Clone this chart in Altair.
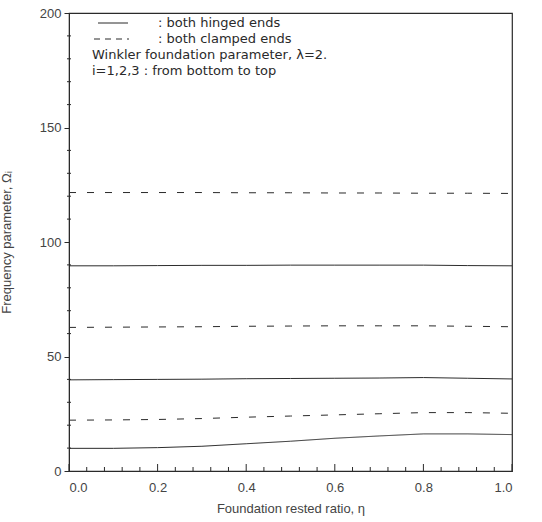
import altair as alt
import pandas as pd

# ---- data ----
eta = [0.0, 0.1, 0.2, 0.3, 0.4, 0.5, 0.6, 0.7, 0.8, 0.9, 1.0]
hinged_1 = [9.9, 9.9, 10.2, 10.8, 11.9, 13.0, 14.3, 15.3, 16.2, 16.2, 15.9]
hinged_2 = [39.8, 39.9, 40.0, 40.1, 40.3, 40.4, 40.5, 40.6, 40.8, 40.5, 40.2]
hinged_3 = [89.6, 89.6, 89.7, 89.8, 89.8, 89.9, 89.9, 89.9, 89.9, 89.7, 89.6]
clamped_1 = [22.2, 22.3, 22.5, 22.9, 23.5, 24.0, 24.5, 25.0, 25.5, 25.5, 25.2]
clamped_2 = [62.7, 62.8, 62.9, 63.0, 63.2, 63.3, 63.4, 63.4, 63.4, 63.2, 63.0]
clamped_3 = [121.6, 121.6, 121.6, 121.6, 121.5, 121.5, 121.4, 121.4, 121.3, 121.3, 121.2]

x_major = [0.0, 0.2, 0.4, 0.6, 0.8, 1.0]
x_minor = [0.04, 0.08, 0.12, 0.16, 0.24, 0.28, 0.32, 0.36, 0.44, 0.48, 0.52, 0.56,
           0.64, 0.68, 0.72, 0.76, 0.84, 0.88, 0.92, 0.96]
y_major = [0, 50, 100, 150, 200]
y_minor = [10, 20, 30, 40, 60, 70, 80, 90, 110, 120, 130, 140, 160, 170, 180, 190]

legend_labels = ["both hinged ends", "both clamped ends"]
note_lines = ["Winkler foundation parameter, \u03bb=2.", "i=1,2,3 : from bottom to top"]

x_title = "Foundation rested ratio, \u03b7"
y_title = "Frequency parameter, \u03a9\u1d62"

# ---- build table ----
rows = []
series = [("hinged", 1, hinged_1), ("hinged", 2, hinged_2), ("hinged", 3, hinged_3),
          ("clamped", 1, clamped_1), ("clamped", 2, clamped_2), ("clamped", 3, clamped_3)]
for kind, i, vals in series:
    for e, v in zip(eta, vals):
        rows.append({"eta": e, "omega": v, "kind": kind, "id": f"{kind}{i}"})
df = pd.DataFrame(rows)

W, H = 443, 458
FONT = "Liberation Sans"
TFONT = "DejaVu Sans"
INK = "#2a2a2a"

xs = alt.Scale(domain=[0, 1], nice=False)
ys = alt.Scale(domain=[0, 200], nice=False)

lines = alt.Chart(df).mark_line(strokeWidth=1, color=INK).encode(
    x=alt.X("eta:Q", scale=xs,
            axis=alt.Axis(values=x_major, format=".1f", title=x_title, ticks=False,
                          labelPadding=10, titlePadding=8)),
    y=alt.Y("omega:Q", scale=ys,
            axis=alt.Axis(values=y_major, title=y_title, tickSize=5, labelPadding=3,
                          titlePadding=26)),
    detail="id:N",
    strokeDash=alt.StrokeDash("kind:N", scale=alt.Scale(domain=["hinged", "clamped"],
                                                         range=[[1, 0], [7, 11]]),
                              legend=None),
)

# inward ticks on x axis
xmaj = alt.Chart(pd.DataFrame({"v": x_major})).mark_rule(color=INK, strokeWidth=1).encode(
    x=alt.X("v:Q", scale=xs), y=alt.value(H), y2=alt.value(H - 7))
xmin = alt.Chart(pd.DataFrame({"v": x_minor})).mark_rule(color=INK, strokeWidth=1).encode(
    x=alt.X("v:Q", scale=xs), y=alt.value(H), y2=alt.value(H - 4))
ymin = alt.Chart(pd.DataFrame({"v": y_minor})).mark_rule(color=INK, strokeWidth=1).encode(
    y=alt.Y("v:Q", scale=ys), x=alt.value(-2), x2=alt.value(2))

# legend inside plot
leg_solid = alt.Chart(pd.DataFrame({"k": ["hinged"]})).mark_rule(color=INK, strokeWidth=1).encode(
    x=alt.value(29), x2=alt.value(59), y=alt.value(10))
leg_dash = alt.Chart(pd.DataFrame({"k": ["clamped"]})).mark_rule(
    color=INK, strokeWidth=1, strokeDash=[6, 5]).encode(
    x=alt.value(25), x2=alt.value(60), y=alt.value(26))

txt_props = dict(font=TFONT, fontSize=13, color=INK, align="left", baseline="middle")


def text_layer(t, x, y):
    return alt.Chart(pd.DataFrame({"t": [t]})).mark_text(**txt_props).encode(
        x=alt.value(x), y=alt.value(y), text="t:N")


texts = [
    text_layer(": " + legend_labels[0], 89, 10),
    text_layer(": " + legend_labels[1], 89, 26),
    text_layer(note_lines[0], 23, 42),
    text_layer(note_lines[1], 23, 58),
]

chart = alt.layer(lines, xmaj, xmin, ymin, leg_solid, leg_dash, *texts).properties(
    width=W, height=H,
    autosize=alt.AutoSizeParams(type="none"),
    padding={"left": 69, "top": 13, "right": 30, "bottom": 51},
).configure_view(stroke=INK, strokeWidth=1.2).configure_axis(
    labelFont=FONT, titleFont=FONT, labelFontSize=13, titleFontSize=13,
    labelColor="#444", titleColor="#444", titleFontWeight="normal",
    domainColor=INK, tickColor=INK, grid=False,
)

chart.save("out.html", embed_options={"renderer": "svg", "actions": False})
